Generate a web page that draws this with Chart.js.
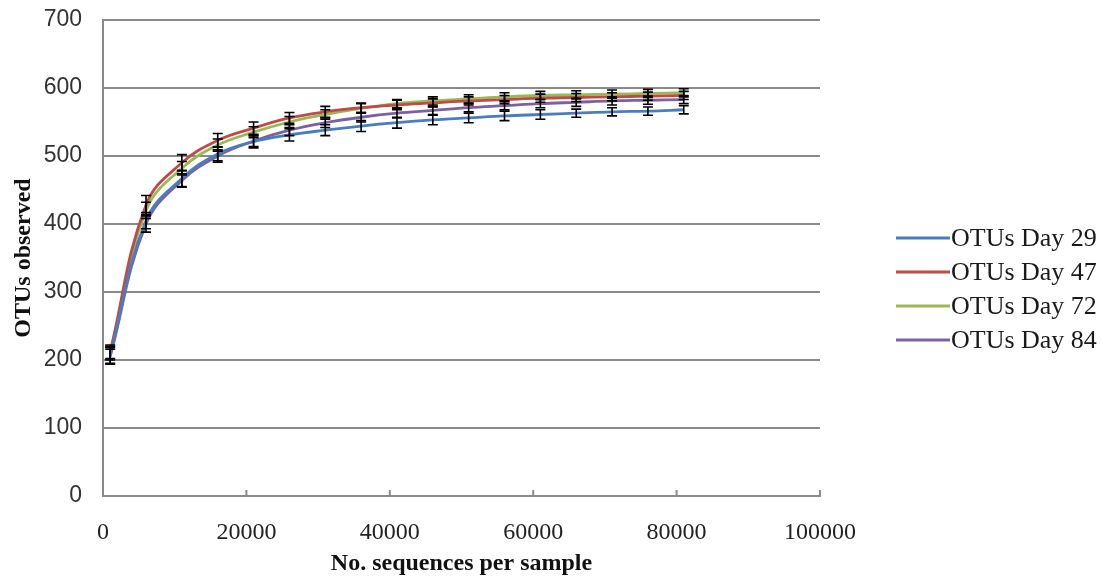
<!DOCTYPE html>
<html lang="en">
<head>
    <meta charset="UTF-8">
    <title>OTUs observed</title>
    <script src="https://cdn.jsdelivr.net/npm/chart.js"></script>
    <style>
        html, body { margin: 0; padding: 0; background: #ffffff; }
        #wrap { width: 1101px; height: 583px; }
    </style>
</head>
<body>

<div id="wrap"><canvas id="otuChart" width="1101" height="583"></canvas></div>

<script>
    // Rarefaction data
    const sequences = [1000, 6000, 11000, 16000, 21000, 26000, 31000, 36000, 41000,
                       46000, 51000, 56000, 61000, 66000, 71000, 76000, 81000];

    const seriesNames = ['OTUs Day 29', 'OTUs Day 47', 'OTUs Day 72', 'OTUs Day 84'];
    const seriesColors = ['#4a7ebb', '#be4b48', '#98b954', '#7d60a0'];

    const day29 = [207, 405, 467, 503, 521, 531, 538, 544, 549, 553, 556, 559, 561, 563, 565, 566, 568];
    const day47 = [212, 428, 490, 523, 541, 556, 565, 571, 575, 578, 581, 583, 585, 586, 587, 588, 589];
    const day72 = [210, 420, 482, 516, 535, 550, 561, 570, 577, 581, 584, 587, 589, 590, 591, 592, 593];
    const day84 = [205, 400, 464, 500, 522, 538, 549, 557, 563, 567, 571, 574, 577, 579, 581, 582, 583];

    const err29 = [12, 12, 12, 10, 9, 9, 8, 8, 8, 7, 7, 7, 7, 6, 6, 6, 6];
    const err47 = [10, 14, 12, 10, 9, 8, 8, 7, 7, 6, 6, 6, 6, 6, 6, 6, 6];
    const err72 = [10, 12, 10, 9, 8, 8, 7, 7, 6, 6, 6, 6, 6, 6, 6, 6, 6];
    const err84 = [11, 12, 10, 9, 8, 8, 7, 7, 7, 6, 6, 6, 6, 6, 6, 6, 6];

    const xTicks = [0, 20000, 40000, 60000, 80000, 100000];
    const yTicks = [0, 100, 200, 300, 400, 500, 600, 700];

    const allValues = [day29, day47, day72, day84];
    const allErrors = [err29, err47, err72, err84];

    const axisGrey = '#8a8a8a';

    // error bars + little upward tick marks on the x axis
    const errorBars = {
        id: 'errorBars',
        afterDatasetsDraw(chart) {
            const ctx = chart.ctx;
            const xs = chart.scales.x;
            const ys = chart.scales.y;
            ctx.save();
            ctx.strokeStyle = '#000000';
            ctx.lineWidth = 1.6;
            allValues.forEach((vals, i) => {
                vals.forEach((v, j) => {
                    const e = allErrors[i][j];
                    const px = xs.getPixelForValue(sequences[j]);
                    const top = ys.getPixelForValue(v + e);
                    const bot = ys.getPixelForValue(v - e);
                    ctx.beginPath();
                    ctx.moveTo(px, top);
                    ctx.lineTo(px, bot);
                    ctx.moveTo(px - 5, top);
                    ctx.lineTo(px + 5, top);
                    ctx.moveTo(px - 5, bot);
                    ctx.lineTo(px + 5, bot);
                    ctx.stroke();
                });
            });
            ctx.restore();

            ctx.save();
            ctx.strokeStyle = axisGrey;
            ctx.lineWidth = 2;
            const base = ys.getPixelForValue(0);
            xTicks.slice(1).forEach(t => {
                const px = xs.getPixelForValue(t);
                ctx.beginPath();
                ctx.moveTo(px, base);
                ctx.lineTo(px, base - 6);
                ctx.stroke();
            });
            ctx.restore();
        }
    };

    // legend at the right, Excel style
    const sideLegend = {
        id: 'sideLegend',
        afterDraw(chart) {
            const ctx = chart.ctx;
            ctx.save();
            ctx.font = '26px "Liberation Serif", "Times New Roman", serif';
            ctx.textBaseline = 'middle';
            ctx.fillStyle = '#1a1a1a';
            chart.data.datasets.forEach((ds, i) => {
                const y = 238 + i * 34;
                ctx.strokeStyle = ds.borderColor;
                ctx.lineWidth = 3;
                ctx.beginPath();
                ctx.moveTo(896, y);
                ctx.lineTo(950, y);
                ctx.stroke();
                ctx.fillText(ds.label, 951, y + 1);
            });
            ctx.restore();
        }
    };

    const datasets = allValues.map((vals, i) => ({
        label: seriesNames[i],
        data: vals.map((v, j) => ({ x: sequences[j], y: v })),
        borderColor: seriesColors[i],
        backgroundColor: seriesColors[i],
        borderWidth: 2.8,
        pointRadius: 0,
        tension: 0.4,
        fill: false
    }));

    new Chart(document.getElementById('otuChart').getContext('2d'), {
        type: 'line',
        data: { datasets: datasets },
        options: {
            responsive: false,
            animation: false,
            devicePixelRatio: 1,
            layout: { padding: { left: 0, right: 281, top: 20, bottom: 0 } },
            plugins: {
                legend: { display: false },
                tooltip: { enabled: false }
            },
            scales: {
                x: {
                    type: 'linear',
                    min: 0,
                    max: 100000,
                    afterBuildTicks: s => { s.ticks = xTicks.map(v => ({ value: v })); },
                    afterFit: s => { s.height = 87; },
                    grid: { display: false },
                    border: { display: true, color: axisGrey, width: 2 },
                    ticks: {
                        padding: 14,
                        maxRotation: 0,
                        color: '#222222',
                        callback: v => String(v),
                        font: { family: '"Liberation Serif", "Times New Roman", serif', size: 24 }
                    },
                    title: {
                        display: true,
                        text: 'No. sequences per sample',
                        color: '#111111',
                        padding: { top: 0, bottom: 5 },
                        font: { family: '"Liberation Serif", "Times New Roman", serif', size: 24, weight: 'bold' }
                    }
                },
                y: {
                    min: 0,
                    max: 700,
                    afterBuildTicks: s => { s.ticks = yTicks.map(v => ({ value: v })); },
                    afterFit: s => { s.width = 103; },
                    // invisible tick marks keep the labels away from the axis
                    grid: { color: axisGrey, lineWidth: 2, drawTicks: true, tickLength: 21, tickColor: 'rgba(0,0,0,0)' },
                    border: { display: true, color: axisGrey, width: 2 },
                    ticks: {
                        padding: 0,
                        color: '#333333',
                        font: { family: '"Liberation Sans", Arial, sans-serif', size: 23 }
                    },
                    title: {
                        display: true,
                        text: 'OTUs observed',
                        color: '#111111',
                        padding: { top: 9, bottom: 0 },
                        font: { family: '"Liberation Serif", "Times New Roman", serif', size: 24, weight: 'bold' }
                    }
                }
            }
        },
        plugins: [errorBars, sideLegend]
    });
</script>

</body>
</html>
